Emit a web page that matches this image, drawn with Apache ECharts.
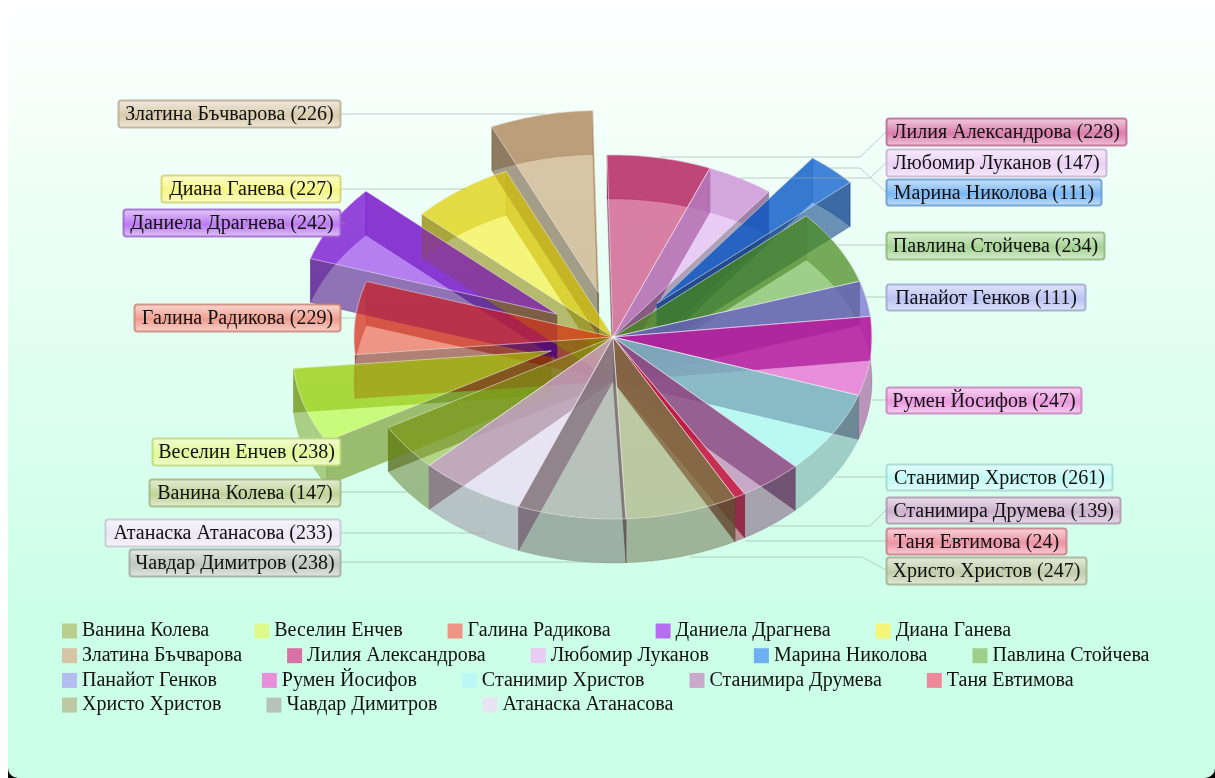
<!DOCTYPE html>
<html><head><meta charset="utf-8">
<style>html,body{margin:0;padding:0;background:#fff}#c{width:1215px;height:778px}</style>
<script src="https://cdn.jsdelivr.net/npm/echarts@6/dist/echarts.min.js"></script>
</head><body><div id="c"></div>
<script>
const names = ['Ванина Колева','Веселин Енчев','Галина Радикова','Даниела Драгнева','Диана Ганева','Златина Бъчварова','Лилия Александрова','Любомир Луканов','Марина Николова','Павлина Стойчева','Панайот Генков','Румен Йосифов','Станимир Христов','Станимира Друмева','Таня Евтимова','Христо Христов','Чавдар Димитров','Атанаска Атанасова'];
const values = [147,238,229,242,227,226,228,147,111,234,111,247,261,139,24,247,238,233];
const legendColors = ['#b9cf8f','#dcfa8c','#ee9585','#b56ef0','#f5f57a','#d6c5a5','#d872a4','#e8ccf3','#6db0f0','#9dcf8b','#b3bdf0','#e88fdc','#baf9f3','#c8a9c8','#ec8a9c','#bcc9a3','#b8c2bc','#e8e4f3'];
const faceOverride = {0:[140,172,30],1:[182,245,10]};
const exploded = [0,1,0,1,0,1,0,0,1,0,0,0,0,0,0,0,0,0];
const legendRows = [names.slice(0,5),names.slice(5,10),names.slice(10,15),names.slice(15)];

// layout (pixels): pie ellipse and callouts
const PIE = {cx:613, cy:337, rx:259, ry:182, depth:44, start:225.17, explode:0.25, alpha:0.5, sideAlpha:0.55, sideDark:0.55, rimAlpha:0.45, rimDark:0.6};
// [box left, box top, box width, box height, leader polyline]
const callouts = [
 [149,479,192,28,[[341,492],[407,492]]],
 [152,438,189,28,[[341,452],[329,452],[329,466]]],
 [134,304,207,28,[[341,318],[356,318]]],
 [123,209,218,28,[[341,223],[345,223]]],
 [161,175,180,28,[[341,189],[465,189]]],
 [118,100,223,28,[[341,114],[545,114]]],
 [886,118,241,28,[[886,132],[860,157],[660,157]]],
 [886,149,221,28,[[886,163],[870,178],[740,178]]],
 [886,179,216,27,[[886,192],[860,168],[830,168]]],
 [886,232,219,28,[[886,245],[838,245]]],
 [886,284,200,27,[[886,297],[866,297]]],
 [886,387,196,27,[[886,400],[872,400]]],
 [886,464,227,27,[[886,477],[835,477]]],
 [886,497,235,27,[[886,510],[870,526],[770,526]]],
 [886,528,181,27,[[886,541],[745,541]]],
 [886,557,201,28,[[886,570],[862,557],[690,557]]],
 [129,549,212,28,[[341,562],[600,562]]],
 [105,519,236,28,[[341,533],[485,533]]]
];
const bgTop = [253,255,254], bgBottom = [204,255,232], bgEnd = 0.78;

function rgb(h){return [1,3,5].map(i=>parseInt(h.substr(i,2),16));}
function css(c,a){return 'rgba('+c.map(v=>Math.max(0,Math.min(255,Math.round(v)))).join(',')+','+a+')';}
function mix(c,t,f){return c.map((v,i)=>v+(t[i]-v)*f);}
function bgAt(py){const f=Math.min(1,Math.max(0,(py-8)/770/bgEnd));return mix(bgTop,bgBottom,f);}
const total = values.reduce((a,b)=>a+b,0);
const rad = Math.PI/180;

function sliceRender(i){
  return function(params, api){
    let sum = 0; for(let k=0;k<i;k++) sum += values[k];
    const a0 = PIE.start + sum/total*360, a1 = a0 + values[i]/total*360, mid=(a0+a1)/2;
    const off = exploded[i]?PIE.explode:0;
    const ox = off*Math.sin(mid*rad), oy = off*Math.cos(mid*rad);
    const dz = PIE.depth/PIE.ry;
    const pt = (x,y)=>api.coord([x+ox,y+oy]);
    const rim = [];
    const n = Math.max(2,Math.ceil(a1-a0));
    for(let k=0;k<=n;k++){const a=(a0+(a1-a0)*k/n)*rad; rim.push([Math.sin(a),Math.cos(a)]);}
    const localBg = bgAt(pt(0.6*Math.sin(mid*rad),0.6*Math.cos(mid*rad))[1]);
    const base = faceOverride[i] || rgb(legendColors[i]).map((v,k)=>Math.max(0,Math.min(255,2*v-localBg[k])));
    const sc = base.map(v=>v*PIE.sideDark), rc = base.map(v=>v*PIE.rimDark);
    const sideStyle = {fill:css(sc,PIE.sideAlpha), stroke:css(sc,0.2), lineWidth:1};
    const rimStyle = {fill:css(rc,PIE.rimAlpha), stroke:css(rc,0.2), lineWidth:1};
    const poly = (list,style,z2)=>({type:'polygon',shape:{points:list},style:style,z2:z2,silent:true});
    const down = p=>[p[0],p[1]-dz];
    const first = rim[0], last = rim[rim.length-1];
    const children = [
      poly([[0,0],first,down(first),[0,-dz]].map(p=>pt(p[0],p[1])),sideStyle,i),
      poly([[0,0],last,down(last),[0,-dz]].map(p=>pt(p[0],p[1])),sideStyle,i),
      poly(rim.concat(rim.slice().reverse().map(down)).map(p=>pt(p[0],p[1])),rimStyle,i),
      poly([[0,0]].concat(rim).map(p=>pt(p[0],p[1])),{fill:css(base,PIE.alpha),stroke:'rgba(255,255,255,0.5)',lineWidth:1},100+i)
    ];
    return {type:'group',children:children};
  };
}

const series = names.map((nm,i)=>({
  name:nm, type:'custom', coordinateSystem:'cartesian2d', silent:true, clip:false,
  itemStyle:{color:legendColors[i]}, encode:{x:0,y:1},
  data:[[0,0]], renderItem:sliceRender(i), animation:false
}));

const graphicEls = [
  {type:'rect',z:-20,silent:true,shape:{x:8,y:740,width:1207,height:38},style:{fill:'#000'}},
  {type:'rect',z:-10,silent:true,shape:{x:8,y:8,width:1207,height:770,r:10},style:{fill:{type:'linear',x:0,y:0,x2:0,y2:1,colorStops:[{offset:0,color:css(bgTop,1)},{offset:bgEnd,color:css(bgBottom,1)},{offset:1,color:css(bgBottom,1)}]}}}
];
names.forEach((nm,i)=>{
  const [x,y,w,h,line] = callouts[i];
  const c = rgb(legendColors[i]);
  graphicEls.push({type:'polyline',z:50,silent:true,shape:{points:line},style:{fill:null,stroke:'rgba(150,175,160,0.6)',lineWidth:1}});
  graphicEls.push({type:'rect',z:60,silent:true,shape:{x:x+0.5,y:y+0.5,width:w-1,height:h-1,r:3},style:{
    fill:{type:'linear',x:0,y:0,x2:0,y2:1,colorStops:[{offset:0,color:css(mix(c,[255,255,255],0.65),1)},{offset:0.55,color:css(mix(c,[255,255,255],0.08),1)},{offset:1,color:css(mix(c,[255,255,255],0.6),1)}]},
    stroke:css(c.map(v=>v*0.85),0.8),lineWidth:2}});
  graphicEls.push({type:'text',z:70,silent:true,style:{text:nm+' ('+values[i]+')',x:x+w/2,y:y+h/2+1,textAlign:'center',textVerticalAlign:'middle',font:'20px "Liberation Serif"',fill:'#111'}});
});

const chart = echarts.init(document.getElementById('c'),null,{renderer:'canvas'});
chart.setOption({
  animation:false,
  backgroundColor:'#fff',
  grid:{left:0,right:0,top:0,bottom:0},
  xAxis:{type:'value',show:false,min:-PIE.cx/PIE.rx,max:(1215-PIE.cx)/PIE.rx},
  yAxis:{type:'value',show:false,min:-(778-PIE.cy)/PIE.ry,max:PIE.cy/PIE.ry},
  legend:legendRows.map((row,r)=>({
    show:true,left:62,top:621+r*24.7,orient:'horizontal',padding:0,
    itemWidth:15,itemHeight:15,itemGap:45,icon:'rect',selectedMode:false,
    textStyle:{fontFamily:'Liberation Serif',fontSize:20,color:'#111'},data:row
  })),
  graphic:{elements:graphicEls},
  series:series
});
</script></body></html>
